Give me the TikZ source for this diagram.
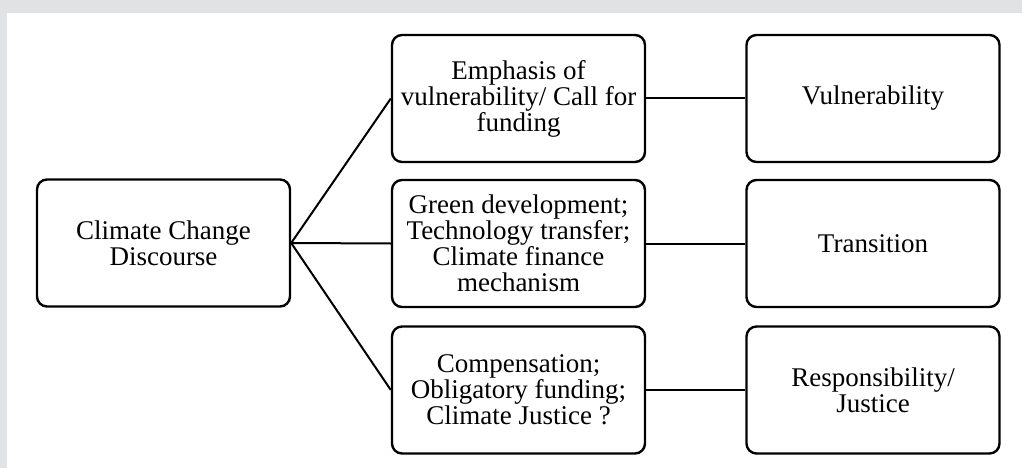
\documentclass[tikz,border=0pt]{standalone}
\usepackage{fontspec}
\setmainfont{Liberation Serif}
\definecolor{framegray}{HTML}{E1E2E4}
\tikzset{
  box/.style={draw=black, line width=2.4pt, rounded corners=10pt, rectangle,
    minimum width=253pt, minimum height=127pt, inner sep=2pt, align=center,
    font=\fontsize{27}{26}\selectfont},
  link/.style={line width=2pt, draw=black}
}
\begin{document}
\begin{tikzpicture}[x=1pt,y=-1pt]
\fill[framegray] (0,0) rectangle (1022,468);
\fill[white] (7,13) rectangle (1022,468);
\useasboundingbox (0,0) rectangle (1022,468);
\node[box] (c) at (163.5,243) {Climate Change\\Discourse};
\node[box] (m1) at (518.5,98.5) {Emphasis of\\vulnerability/ Call for\\funding};
\node[box] (m2) at (518.5,243.5) {Green development;\\Technology transfer;\\Climate finance\\mechanism};
\node[box] (m3) at (518.5,390) {Compensation;\\Obligatory funding;\\Climate Justice ?};
\node[box] (r1) at (873,98.5) {Vulnerability};
\node[box] (r2) at (873,243.5) {Transition};
\node[box] (r3) at (873,390) {Responsibility/\\Justice};
\draw[link] (c.east) -- (m1.west);
\draw[link] (c.east) -- (m2.west);
\draw[link] (c.east) -- (m3.west);
\draw[link] (m1.east) -- (r1.west);
\draw[link] (m2.east) -- (r2.west);
\draw[link] (m3.east) -- (r3.west);
\end{tikzpicture}
\end{document}
